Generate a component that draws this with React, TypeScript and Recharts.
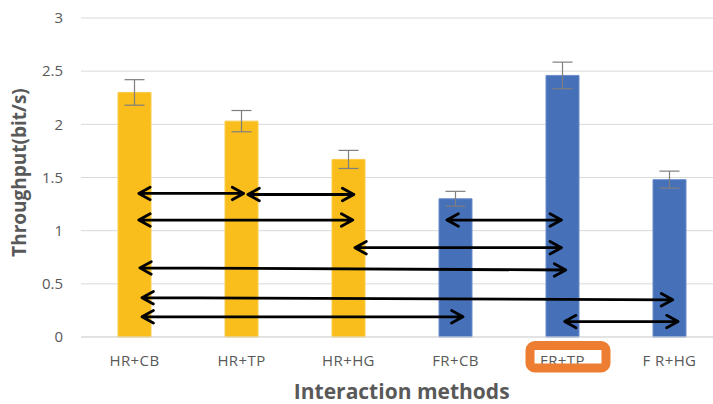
import React from "react";
import { BarChart, Bar, XAxis, YAxis, CartesianGrid, ErrorBar, Cell, ReferenceLine } from "recharts";

const categories = ["HR+CB", "HR+TP", "HR+HG", "FR+CB", "FR+TP", "F R+HG"];
const throughput = [2.3, 2.03, 1.67, 1.3, 2.46, 1.48];
const errors = [0.12, 0.1, 0.085, 0.07, 0.125, 0.08];
const groups = ["HR", "HR", "HR", "FR", "FR", "FR"];
const yTicks = [0, 0.5, 1, 1.5, 2, 2.5, 3];
const highlighted = "FR+TP";

// comparison arrows, in category-index units (band i spans i..i+1) and throughput units
const arrows = [
  { x1: 0.54, y1: 1.35, x2: 1.52, y2: 1.35 },
  { x1: 1.56, y1: 1.34, x2: 2.55, y2: 1.34 },
  { x1: 0.54, y1: 1.1, x2: 2.54, y2: 1.1 },
  { x1: 3.42, y1: 1.1, x2: 4.49, y2: 1.1 },
  { x1: 2.56, y1: 0.84, x2: 4.49, y2: 0.84 },
  { x1: 0.55, y1: 0.65, x2: 4.53, y2: 0.63 },
  { x1: 0.57, y1: 0.37, x2: 5.53, y2: 0.35 },
  { x1: 0.57, y1: 0.19, x2: 3.57, y2: 0.19 },
  { x1: 4.52, y1: 0.145, x2: 5.58, y2: 0.145 },
];

const data = categories.map((c, i) => ({ name: c, pos: i + 0.5, value: throughput[i], err: errors[i], group: groups[i] }));

const FONT = "'Open Sans', sans-serif";
const TEXT = "#595959";
const fills: Record<string, string> = { HR: "#F9BE1C", FR: "#4670B8" };
const edges: Record<string, string> = { HR: "#FBCB4A", FR: "#6A8CCB" };

const ArrowShape = (p: any) => {
  const { x1, y1, x2, y2 } = p;
  if ([x1, y1, x2, y2].some((v) => typeof v !== "number" || isNaN(v))) return <g />;
  const a = Math.atan2(y2 - y1, x2 - x1);
  const L = 13;
  const spread = 0.5;
  const h = (x: number, y: number, ang: number) =>
    `M ${x + L * Math.cos(ang + spread)} ${y + L * Math.sin(ang + spread)} L ${x} ${y} L ${x + L * Math.cos(ang - spread)} ${y + L * Math.sin(ang - spread)}`;
  const d = `M ${x1} ${y1} L ${x2} ${y2} ` + h(x1, y1, a) + " " + h(x2, y2, a + Math.PI);
  return <path d={d} fill="none" stroke="#000" strokeWidth={2.8} strokeLinecap="round" strokeLinejoin="round" />;
};

const XTick = (props: any) => {
  const { x, y, payload } = props;
  return (
    <g>
      <text x={x} y={y + 21} textAnchor="middle" fontSize={15} fill={TEXT} fontFamily={FONT} letterSpacing={0.4}>
        {payload.value}
      </text>
      {payload.value === highlighted && (
        <rect x={x - 32.5} y={y + 0.5} width={76} height={22.5} rx={5} fill="none" stroke="#ED7D31" strokeWidth={9} />
      )}
    </g>
  );
};

const YTitle = () => (
  <text
    x={19}
    y={172.5}
    transform="rotate(-90 19 172.5)"
    textAnchor="middle"
    dominantBaseline="central"
    fontSize={19}
    fontWeight="bold"
    fill={TEXT}
    fontFamily={FONT}
  >
    Throughput(bit/s)
  </text>
);

const XTitle = () => (
  <text x={401.7} y={398.5} textAnchor="middle" fontSize={21} fontWeight="bold" fill={TEXT} fontFamily={FONT}>
    Interaction methods
  </text>
);

export default function App() {
  return (
    <div style={{ position: "fixed", left: 0, top: 0, width: 713, height: 404, overflow: "hidden", background: "#fff" }}>
      <BarChart width={730} height={404} data={data} margin={{ top: 18, right: 7, bottom: 37, left: 0 }}>
        <CartesianGrid vertical={false} stroke="#D9D9D9" />
        <XAxis
          dataKey="name"
          height={30}
          tickLine={false}
          axisLine={{ stroke: "#D9D9D9" }}
          tick={<XTick />}
          interval={0}
          label={<XTitle />}
        />
        <XAxis xAxisId="n" dataKey="pos" type="number" domain={[0, 6]} hide allowDataOverflow />
        <YAxis
          width={81}
          domain={[0, 3]}
          ticks={yTicks}
          tickLine={false}
          axisLine={false}
          tickMargin={12}
          tick={{ fontSize: 15, fill: TEXT, fontFamily: FONT }}
          label={<YTitle />}
        />
        <Bar dataKey="value" barSize={33} isAnimationActive={false}>
          {data.map((d, i) => (
            <Cell key={i} fill={fills[d.group]} stroke={edges[d.group]} strokeWidth={1} />
          ))}
          <ErrorBar dataKey="err" width={10} stroke="#7F7F7F" strokeWidth={1.2} />
        </Bar>
        {arrows.map((a, i) => (
          <ReferenceLine
            key={i}
            xAxisId="n"
            segment={[
              { x: a.x1, y: a.y1 },
              { x: a.x2, y: a.y2 },
            ]}
            ifOverflow="visible"
            shape={<ArrowShape />}
          />
        ))}
      </BarChart>
    </div>
  );
}
